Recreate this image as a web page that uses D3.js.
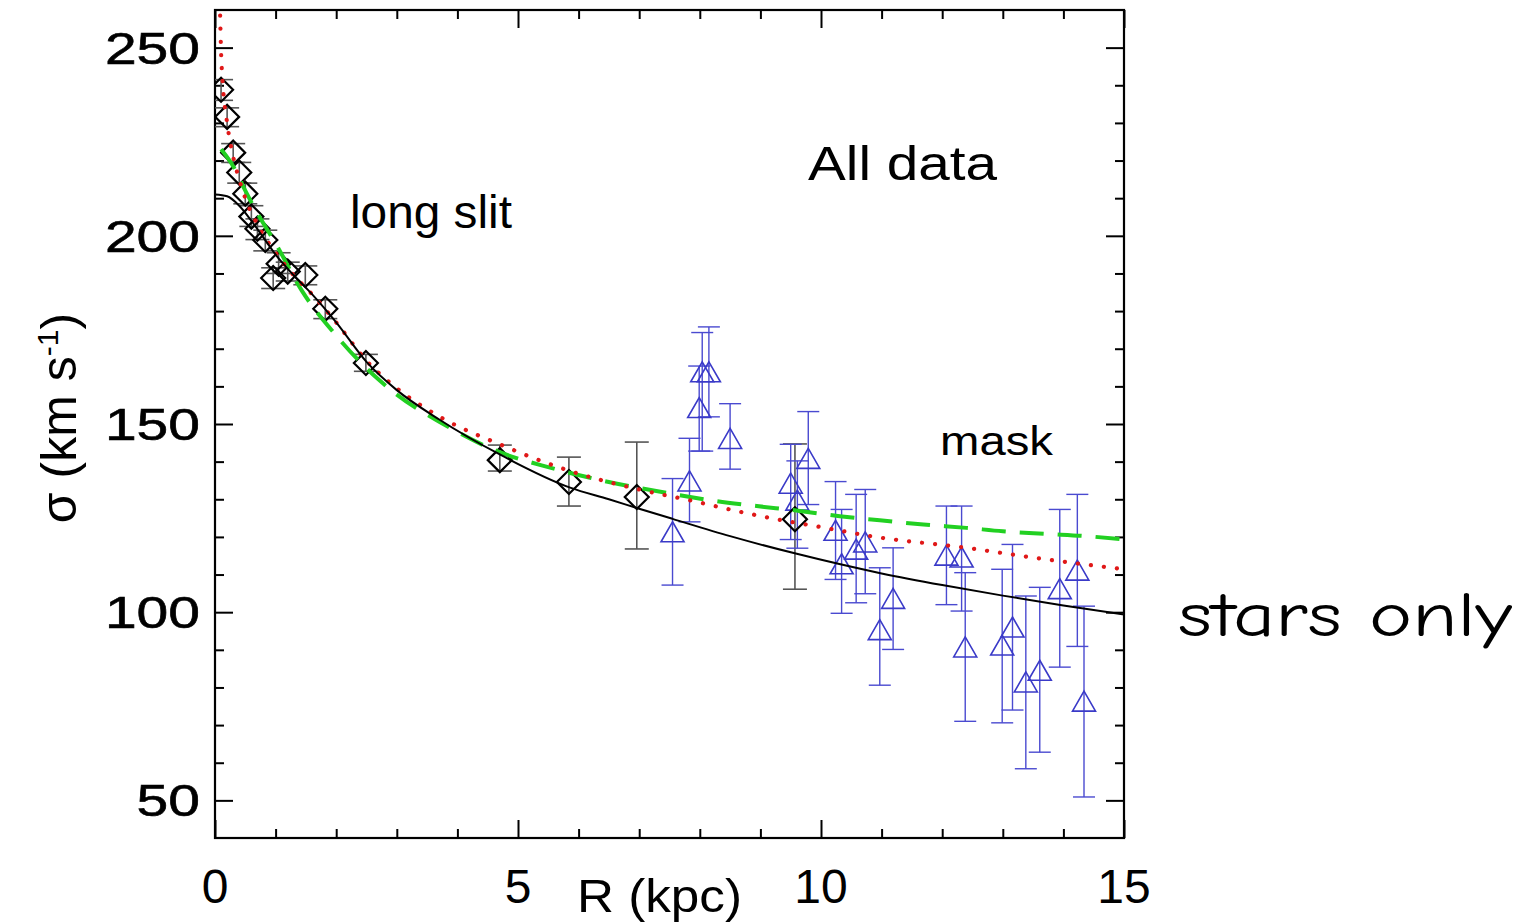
<!DOCTYPE html>
<html>
<head>
<meta charset="utf-8">
<script src="https://cdn.jsdelivr.net/npm/d3@7"></script>
<style>
  html, body { margin: 0; padding: 0; background: #fff; }
  svg { display: block; }
  .lbl { font-family: "Liberation Sans", Arial, Helvetica, sans-serif; fill: #000; }
</style>
</head>
<body>
<svg id="chart" width="1526" height="923"></svg>
<script>
// Long-slit stellar dispersion (diamonds)
const slitR     = [0.10, 0.20, 0.30, 0.40, 0.50, 0.60, 0.70, 0.83, 0.96, 1.05, 1.20, 1.49, 1.82, 2.49, 4.70, 5.84, 6.96, 9.57];
const slitSigma = [238.8, 231.6, 222.1, 216.8, 211.2, 205.1, 201.9, 198.9, 188.8, 192.6, 190.5, 189.6, 180.6, 166.2, 140.4, 134.6, 130.6, 124.7];
const slitLo    = [236.0, 229.0, 219.5, 214.0, 208.5, 202.5, 199.0, 196.0, 186.0, 190.0, 188.0, 187.0, 178.0, 164.0, 137.5, 128.2, 116.8, 106.1];
const slitHi    = [241.5, 234.0, 224.5, 219.5, 214.0, 208.0, 204.5, 201.5, 191.5, 195.5, 193.0, 192.0, 183.0, 168.5, 144.4, 141.2, 145.2, 144.7];

// Multi-slit mask dispersion (triangles)
const maskR     = [7.55, 7.83, 7.99, 8.04, 8.15, 8.50, 9.50, 9.61, 9.79, 10.24, 10.34, 10.58, 10.73, 10.97, 11.19, 12.07, 12.32, 12.38, 12.99, 13.16, 13.38, 13.61, 13.94, 14.23, 14.34];
const maskSigma = [121.1, 134.6, 154.1, 163.6, 163.6, 145.9, 134.0, 129.5, 140.6, 121.5, 112.6, 116.5, 118.4, 95.1, 103.4, 114.9, 114.4, 90.5, 91.0, 95.8, 81.2, 84.3, 106.0, 110.9, 76.1];
const maskLo    = [107.2, 124.0, 142.8, 142.8, 151.9, 138.0, 119.3, 117.0, 128.6, 108.7, 99.7, 102.5, 104.9, 80.6, 90.1, 102.0, 100.3, 71.0, 70.6, 74.0, 58.4, 62.8, 85.4, 90.9, 50.9];
const maskHi    = [135.5, 146.2, 165.4, 174.3, 175.8, 155.4, 144.6, 140.2, 153.3, 134.7, 127.3, 131.3, 132.6, 111.8, 117.1, 128.2, 128.2, 110.5, 111.4, 118.0, 104.3, 106.6, 127.3, 131.3, 101.6];

// Model curves sampled along R
const fitSolidR = [0, 0.2, 0.4, 0.6, 0.8, 1.0, 1.3, 1.6, 2.0, 2.5, 3.0, 3.7, 4.7, 5.86, 6.5, 7.0, 7.55, 8.5, 9.6, 11.0, 12.0, 13.0, 14.0, 15.0];
const fitSolidS = [211, 210.5, 208, 204, 199.5, 195, 189.5, 184.5, 177, 166.5, 159, 151.2, 141.9, 133.1, 130.0, 127.5, 124.8, 120.2, 115.5, 110.3, 107.2, 104.4, 101.8, 99.4];

const fitDotR = [0.08, 0.09, 0.10, 0.13, 0.20, 0.30, 0.40, 0.50, 0.70, 1.0, 1.3, 1.6, 2.0, 2.5, 3.0, 3.7, 4.7, 5.86, 7.0, 7.9, 8.6, 9.3, 10.0, 10.9, 12.4, 13.5, 15.0];
const fitDotS = [262, 255, 249, 240, 230, 221, 215, 210, 203, 195.5, 189.5, 184.5, 177, 166.8, 159.5, 152, 144.6, 137.5, 132.6, 129.5, 126.9, 124.6, 122.6, 120.0, 117.1, 114.5, 111.4];

const fitDashR = [0.10, 0.30, 0.50, 0.70, 1.0, 1.43, 2.0, 2.7, 3.0, 3.7, 4.7, 5.53, 6.19, 7.56, 8.28, 8.94, 9.65, 10.31, 10.97, 11.69, 12.4, 13.0, 13.72, 14.38, 15.0];
const fitDashS = [223, 218.5, 212, 206, 198, 185.5, 173.5, 161.8, 157.8, 150.6, 142.5, 138.4, 135.7, 131.4, 129.5, 128.2, 126.9, 125.5, 124.4, 123.3, 122.4, 121.5, 120.8, 120.2, 119.3];

// Axis ticks
const xMajorTicks = [0, 5, 10, 15];
const xTickLabels = ["0", "5", "10", "15"];
const xMinorTicks = [1, 2, 3, 4, 6, 7, 8, 9, 11, 12, 13, 14];
const yMajorTicks = [50, 100, 150, 200, 250];
const yTickLabels = ["50", "100", "150", "200", "250"];
const yMinorTicks = [60, 70, 80, 90, 110, 120, 130, 140, 160, 170, 180, 190, 210, 220, 230, 240];

const svg = d3.select("#chart");
const x = d3.scaleLinear().domain([0, 15]).range([215, 1124]);
const y = d3.scaleLinear().domain([40, 260]).range([838, 10]);

svg.append("defs").append("clipPath").attr("id", "plotclip")
  .append("rect").attr("x", 215).attr("y", 10).attr("width", 909).attr("height", 828);

// frame ticks on all four sides, all pointing into the plot
const tickG = svg.append("g");
function inward(axis, tx, ty) {
  const gg = tickG.append("g").attr("transform", `translate(${tx},${ty})`).call(axis);
  gg.select(".domain").remove();
  gg.selectAll(".tick line").attr("stroke", "#000").attr("stroke-width", 2);
  return gg;
}
inward(d3.axisBottom(x).tickValues(xMajorTicks).tickSize(-18).tickFormat(""), 0, 838);
inward(d3.axisBottom(x).tickValues(xMinorTicks).tickSize(-9).tickFormat(""), 0, 838);
inward(d3.axisTop(x).tickValues(xMajorTicks).tickSize(-18).tickFormat(""), 0, 10);
inward(d3.axisTop(x).tickValues(xMinorTicks).tickSize(-9).tickFormat(""), 0, 10);
inward(d3.axisLeft(y).tickValues(yMajorTicks).tickSize(-18).tickFormat(""), 215, 0);
inward(d3.axisLeft(y).tickValues(yMinorTicks).tickSize(-9).tickFormat(""), 215, 0);
inward(d3.axisRight(y).tickValues(yMajorTicks).tickSize(-18).tickFormat(""), 1124, 0);
inward(d3.axisRight(y).tickValues(yMinorTicks).tickSize(-9).tickFormat(""), 1124, 0);

svg.append("rect").attr("x", 215).attr("y", 10).attr("width", 909).attr("height", 828)
  .attr("fill", "none").attr("stroke", "#000").attr("stroke-width", 2.2);

// tick labels
svg.append("g").selectAll("text").data(yMajorTicks).join("text")
  .attr("class", "lbl")
  .attr("x", 200).attr("y", d => y(d) + 16)
  .attr("text-anchor", "end")
  .attr("font-size", 45)
  .attr("stroke", "#000").attr("stroke-width", 0.6)
  .attr("textLength", (d, i) => yTickLabels[i].length * 31.7)
  .attr("lengthAdjust", "spacingAndGlyphs")
  .text((d, i) => yTickLabels[i]);

svg.append("g").selectAll("text").data(xMajorTicks).join("text")
  .attr("class", "lbl")
  .attr("x", d => x(d)).attr("y", 903)
  .attr("text-anchor", "middle")
  .attr("font-size", 48)
  .text((d, i) => xTickLabels[i]);

// axis titles
svg.append("text").attr("class", "lbl")
  .attr("x", 577).attr("y", 912)
  .attr("font-size", 46)
  .attr("textLength", 165).attr("lengthAdjust", "spacingAndGlyphs")
  .text("R (kpc)");

const yt = svg.append("text").attr("class", "lbl")
  .attr("transform", "translate(76,418) rotate(-90)")
  .attr("text-anchor", "middle")
  .attr("font-size", 50);
yt.append("tspan").text("σ (km s");
yt.append("tspan").attr("font-size", 30).attr("dy", -18).text("-1");
yt.append("tspan").attr("dy", 18).text(")");

// data layer
const plot = svg.append("g").attr("clip-path", "url(#plotclip)");

const slit = slitR.map((r, i) => ({ r, s: slitSigma[i], lo: slitLo[i], hi: slitHi[i] }));
const mask = maskR.map((r, i) => ({ r, s: maskSigma[i], lo: maskLo[i], hi: maskHi[i] }));

function errorBars(g, data, color, width, cap) {
  const eg = g.append("g").attr("stroke", color).attr("stroke-width", width).attr("fill", "none");
  eg.selectAll("line.v").data(data).join("line").attr("class", "v")
    .attr("x1", d => x(d.r)).attr("x2", d => x(d.r))
    .attr("y1", d => y(d.lo)).attr("y2", d => y(d.hi));
  eg.selectAll("line.t").data(data).join("line").attr("class", "t")
    .attr("x1", d => x(d.r) - cap).attr("x2", d => x(d.r) + cap)
    .attr("y1", d => y(d.hi)).attr("y2", d => y(d.hi));
  eg.selectAll("line.b").data(data).join("line").attr("class", "b")
    .attr("x1", d => x(d.r) - cap).attr("x2", d => x(d.r) + cap)
    .attr("y1", d => y(d.lo)).attr("y2", d => y(d.lo));
}

errorBars(plot, slit, "#555", 1.6, 12);
errorBars(plot, mask, "#4a4ad0", 1.4, 11);

// triangles
plot.append("g").selectAll("path").data(mask).join("path")
  .attr("transform", d => `translate(${x(d.r)},${y(d.s)})`)
  .attr("d", "M0,-11L11.5,9L-11.5,9Z")
  .attr("fill", "none").attr("stroke", "#3a3ac8").attr("stroke-width", 1.6);

// diamonds
plot.append("g").selectAll("path").data(slit).join("path")
  .attr("transform", d => `translate(${x(d.r)},${y(d.s)})`)
  .attr("d", "M-12,0L0,-12L12,0L0,12Z")
  .attr("fill", "none").attr("stroke", "#000").attr("stroke-width", 2.2);

// model curves
const line = d3.line().x(d => x(d[0])).y(d => y(d[1])).curve(d3.curveMonotoneX);

plot.append("path")
  .datum(fitDashR.map((r, i) => [r, fitDashS[i]]))
  .attr("d", line).attr("fill", "none")
  .attr("stroke", "#22d022").attr("stroke-width", 4)
  .attr("stroke-dasharray", "24,14");

plot.append("path")
  .datum(fitDotR.map((r, i) => [r, fitDotS[i]]))
  .attr("d", line).attr("fill", "none")
  .attr("stroke", "#e01818").attr("stroke-width", 4.2)
  .attr("stroke-linecap", "round")
  .attr("stroke-dasharray", "0.1,13");

plot.append("path")
  .datum(fitSolidR.map((r, i) => [r, fitSolidS[i]]))
  .attr("d", line).attr("fill", "none")
  .attr("stroke", "#000").attr("stroke-width", 2);

// annotations
svg.append("text").attr("class", "lbl")
  .attr("x", 808).attr("y", 180).attr("font-size", 48)
  .attr("textLength", 189).attr("lengthAdjust", "spacingAndGlyphs")
  .text("All data");
svg.append("text").attr("class", "lbl")
  .attr("x", 350).attr("y", 228).attr("font-size", 47)
  .attr("textLength", 162).attr("lengthAdjust", "spacingAndGlyphs")
  .text("long slit");
svg.append("text").attr("class", "lbl")
  .attr("x", 940).attr("y", 455).attr("font-size", 41)
  .attr("textLength", 113).attr("lengthAdjust", "spacingAndGlyphs")
  .text("mask");
svg.append("text")
  .attr("x", 1178).attr("y", 636)
  .attr("font-family", "'Comic Sans MS', 'Comic Neue', 'DejaVu Sans', sans-serif")
  .attr("font-size", 62)
  .attr("textLength", 334).attr("lengthAdjust", "spacingAndGlyphs")
  .attr("fill", "#000")
  .text("stars only");
</script>
</body>
</html>
